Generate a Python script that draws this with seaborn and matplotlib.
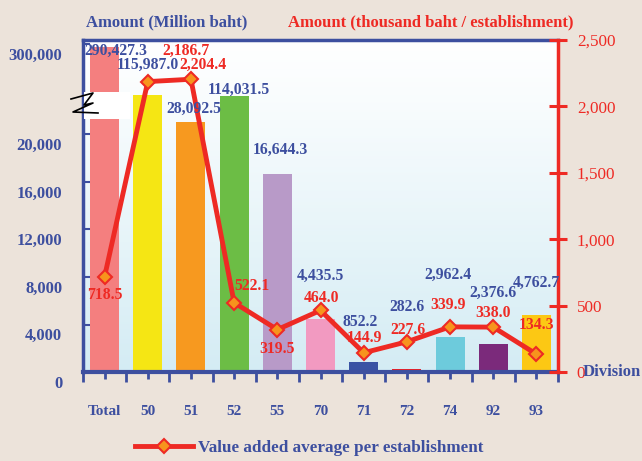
"""Value added by division: bars (million baht, broken axis) + average per establishment line."""
import matplotlib

matplotlib.use("Agg")
import matplotlib.pyplot as plt
import matplotlib.transforms as mtransforms
import numpy as np
import seaborn as sns
from matplotlib.patches import Rectangle

divisions = ["Total", "50", "51", "52", "55", "70", "71", "72", "74", "92", "93"]
value_added = [290427.3, 115987.0, 28092.5, 114031.5, 16644.3, 4435.5,
               852.2, 282.6, 2962.4, 2376.6, 4762.7]
avg_per_est = [718.5, 2186.7, 2204.4, 522.1, 319.5, 464.0,
               144.9, 227.6, 339.9, 338.0, 134.3]
bar_colors = ["#f47f7f", "#f5e614", "#f7991f", "#6cbd45", "#b89ac8", "#f29ac1",
              "#3953a4", "#ed2024", "#6dcbdc", "#7b2a7b", "#fcc814"]
left_ticks = [0, 4000, 8000, 12000, 16000, 20000, 300000]
right_ticks = [0, 500, 1000, 1500, 2000, 2500]

BLUE = "#3d4f9f"
RED = "#ee2a24"
BG = "#ece3da"

plt.rcParams["font.family"] = ["Liberation Serif", "DejaVu Serif"]

# broken left axis: linear up to 20,000, compressed above
brk_v = np.array([0, 20000, 30000, 120000, 300000, 400000], dtype=float)
brk_p = np.array([0, 237.5, 253, 278, 328, 345], dtype=float)


def fwd(v):
    return np.interp(v, brk_v, brk_p)


def inv(p):
    return np.interp(p, brk_p, brk_v)


fig = plt.figure(figsize=(6.42, 4.61), dpi=100, facecolor=BG)
pos = [83 / 642, (461 - 372) / 461, (558 - 83) / 642, (372 - 40) / 461]

# gradient plot background
bg = fig.add_axes(pos, zorder=-1)
grad = np.linspace(0, 1, 256)[:, None]
top_c = np.array([1.0, 1.0, 1.0])
bot_c = np.array([212, 236, 244]) / 255
img = top_c + (bot_c - top_c) * grad[..., None] ** 1.1
bg.imshow(img, aspect="auto", extent=[0, 1, 0, 1])
bg.axis("off")

ax = fig.add_axes(pos)
ax.patch.set_visible(False)
sns.barplot(x=divisions, y=value_added, hue=divisions, palette=bar_colors,
            legend=False, width=0.67, ax=ax, saturation=1)
ax.set_yscale("function", functions=(fwd, inv))
ax.set_ylim(0, inv(332))
ax.set_xlim(-0.5, len(divisions) - 0.5)
ax.set_yticks(left_ticks)
ax.set_yticklabels([f"{t:,}" for t in left_ticks])
ax.set_xlabel("")
ax.set_ylabel("")
ax.tick_params(axis="y", direction="in", length=5, width=1.5, color=BLUE,
               labelcolor=BLUE, labelsize=12, pad=15)
ax.set_xticks(np.arange(-0.5, len(divisions)), minor=True)
ax.tick_params(axis="x", which="major", direction="out", length=5, width=2,
               color=BLUE, labelcolor=BLUE, labelsize=11, pad=19)
ax.tick_params(axis="x", which="minor", direction="out", length=7, width=2,
               color=BLUE)
for lab in ax.get_xticklabels() + ax.get_yticklabels():
    lab.set_fontweight("bold")
# labels sit a bit below their tick marks in the original
off = mtransforms.ScaledTranslation(0, -7 / 72, fig.dpi_scale_trans)
for lab in ax.get_yticklabels():
    lab.set_transform(lab.get_transform() + off)
for side in ["left", "top", "bottom"]:
    ax.spines[side].set_color(BLUE)
    ax.spines[side].set_linewidth(2.5)
ax.spines["bottom"].set_linewidth(3)
ax.spines["right"].set_visible(False)

# right axis + line
ax2 = ax.twinx()
sns.lineplot(x=np.arange(len(divisions)), y=avg_per_est, ax=ax2, sort=False,
             color=RED, linewidth=3.5, marker="D", markersize=7,
             markerfacecolor="#f7941d", markeredgecolor=RED, markeredgewidth=1.5,
             label="Value added average per establishment", legend=False)
ax2.set_ylim(0, 2500)
ax2.set_yticks(right_ticks)
ax2.set_yticklabels([f"{t:,}" for t in right_ticks])
ax2.tick_params(axis="y", direction="inout", length=13, width=2.2, color=RED,
                labelcolor=RED, labelsize=12.3, pad=7)
ax2.set_ylabel("")
for side in ["left", "top", "bottom"]:
    ax2.spines[side].set_visible(False)
ax2.spines["right"].set_color(RED)
ax2.spines["right"].set_linewidth(2.5)

# broken-axis marker
fig.patches.append(Rectangle((84 / 642, (461 - 119) / 461), 46 / 642, 27 / 461,
                             transform=fig.transFigure, facecolor="white",
                             edgecolor="none", zorder=3))
zx = np.array([71, 93, 84, 93, 73, 98]) / 642
zy = (461 - np.array([99, 93, 105, 103, 112, 113])) / 461
fig.lines.append(plt.Line2D(zx, zy, transform=fig.transFigure, color="black",
                            linewidth=1.2, zorder=4))

# value labels
bar_lab_x = [0.26, 0.0, 0.07, 0.1, 0.07, 0.0, -0.08, 0.0, -0.05, 0.0, 0.0]
bar_lab_y = [0.968, 0.925, 0.792, 0.849, 0.669, 0.289, 0.151, 0.196, 0.292, 0.238, 0.268]
for i, v in enumerate(value_added):
    ax2.text(i + bar_lab_x[i], bar_lab_y[i], f"{v:,.1f}", transform=ax2.get_xaxis_transform(),
             ha="center", va="center", color=BLUE, fontsize=11.3, fontweight="bold")
line_lab_x = [0.0, 0.88, 0.28, 0.42, 0.0, 0.02, 0.03, 0.02, -0.05, 0.0, 0.0]
line_lab_y = [0.232, 0.968, 0.925, 0.259, 0.069, 0.223, 0.102, 0.127, 0.202, 0.178, 0.142]
for i, v in enumerate(avg_per_est):
    ax2.text(i + line_lab_x[i], line_lab_y[i], f"{v:,.1f}", transform=ax2.get_xaxis_transform(),
             ha="center", va="center", color=RED, fontsize=11.3, fontweight="bold")

# axis titles
fig.text(86 / 642, 1 - 22 / 461, "Amount (Million baht)", color=BLUE,
         fontsize=12, fontweight="bold", va="center")
fig.text(574 / 642, 1 - 22 / 461, "Amount (thousand baht / establishment)", color=RED,
         fontsize=12, fontweight="bold", va="center", ha="right")
fig.text(583 / 642, 1 - 372 / 461, "Division", color=BLUE, fontsize=12,
         fontweight="bold", va="center")

leg = ax2.legend(loc="center", bbox_to_anchor=(309 / 642, 1 - 448 / 461),
                 bbox_transform=fig.transFigure, frameon=False, handlelength=3.4,
                 handletextpad=0.3, prop={"size": 12.3, "weight": "bold"})
for t in leg.get_texts():
    t.set_color(BLUE)

fig.savefig("out.png", dpi=100, facecolor=BG)
